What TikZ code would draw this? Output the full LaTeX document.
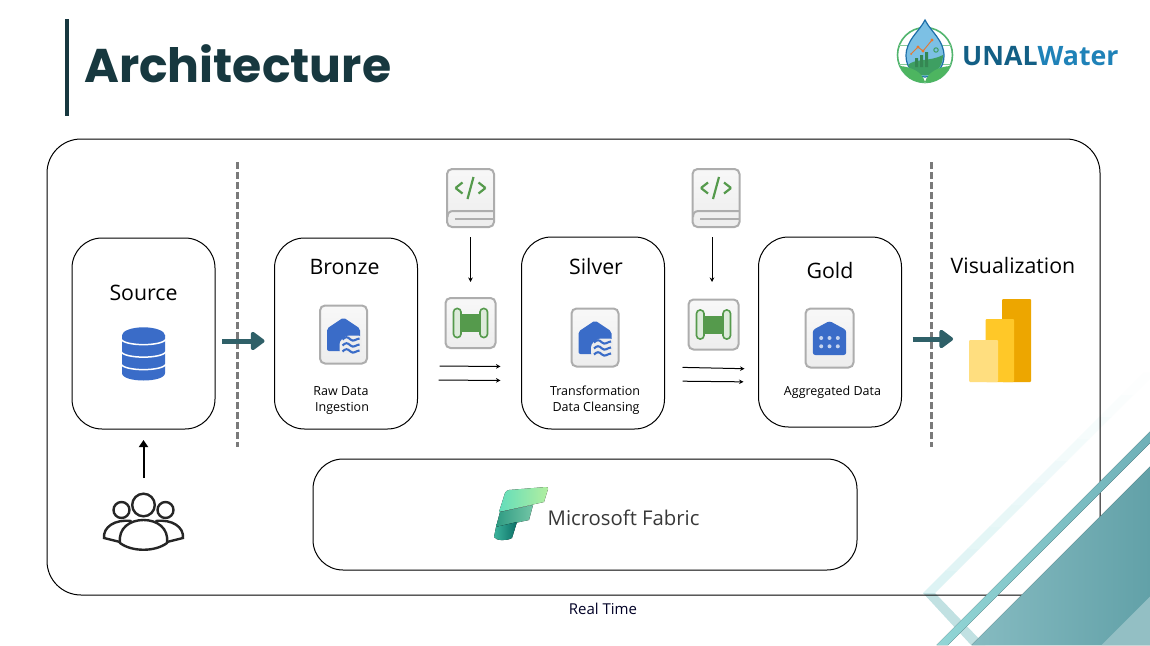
\documentclass[tikz,border=0pt]{standalone}
\usepackage{fontspec}
\setmainfont{Open Sans}
\newfontfamily\titlefont{Poppins}
\usetikzlibrary{arrows.meta}
\definecolor{inkteal}{HTML}{17383F}
\definecolor{flowteal}{HTML}{2F6068}
\definecolor{iconblue}{HTML}{3A6CC8}
\definecolor{codegreen}{HTML}{559A4C}
\definecolor{tilebg}{HTML}{EDEDED}
\definecolor{faintbar}{HTML}{DDF3F4}
\definecolor{biback}{HTML}{EDA600}
\definecolor{bimid}{HTML}{FFC828}
\definecolor{bifront}{HTML}{FFDE7F}
\tikzset{
  stage/.style={draw=black,line width=1pt,rounded corners=30pt,inner sep=0pt,outer sep=0pt,minimum width=143pt},
  tile/.style={draw=black!32,line width=2pt,rounded corners=5pt,top color=white!60!tilebg,bottom color=tilebg,inner sep=0pt,outer sep=0pt},
  ghost/.style={inner sep=0pt,outer sep=0pt},
  heading/.style={font=\fontsize{21.3}{25}\selectfont,inner sep=0pt},
  caption/.style={font=\fontsize{12.5}{16}\selectfont,align=center,inner sep=0pt},
  flowarrow/.style={draw=flowteal,line width=5pt,-{Triangle[length=15pt,width=21pt,round]}},
  thinarrow/.style={draw=black,line width=1pt,-{Stealth[length=4.5pt,width=4.5pt]}},
  guide/.style={draw=black!52,line width=3pt,dash pattern=on 7pt off 3pt},
  lakeglyph/.pic={
    \fill[iconblue,rounded corners=2pt] (-16.5,-6) -- (0,-17) -- (16.5,-6) -- (16.5,16.5) -- (-16.5,16.5) -- cycle;
    \fill[tilebg,rounded corners=3pt] (-4,18.5) -- (-4,7) -- (3,1) -- (18,1) -- (18,18.5) -- cycle;
    \foreach \wy in {5,11,17}
      \draw[iconblue,line width=2.1pt] (-1,\wy) .. controls (2,\wy-3) and (4,\wy-3) .. (7,\wy) .. controls (10,\wy+3) and (13,\wy-1) .. (16,\wy-1);
  },
  goldglyph/.pic={
    \fill[iconblue,rounded corners=2.5pt] (-16.7,-8) -- (0,-17) -- (16.7,-8) -- (16.7,17) -- (-16.7,17) -- cycle;
    \foreach \dx in {-8.3,0,8.3}
      \foreach \dy in {0,8.3}
        \fill[white!70!iconblue] (\dx,\dy) circle (2);
  },
  noteglyph/.pic={
    \draw[codegreen,line width=2.2pt] (-15,-10) -- (-8,-15.5) (-15,-10) -- (-8,-4.5);
    \draw[codegreen,line width=2.2pt] (15,-10) -- (8,-15.5) (15,-10) -- (8,-4.5);
    \draw[codegreen,line width=2.2pt] (3,-21) -- (-3,1);
    \draw[black!32,line width=2pt] (-23,19) .. controls (-23,15) and (-21,13) .. (-17,13) -- (23,13);
    \draw[black!32,line width=2pt] (-16,20.5) -- (23,20.5);
  },
  pipeglyph/.pic={
    \fill[codegreen] (-9.5,-9) rectangle (9.5,9);
    \draw[codegreen,line width=1.6pt,fill=white!80!codegreen,rounded corners=3.5pt] (-17,-14.5) rectangle (-9.5,14.5);
    \draw[codegreen,line width=1.6pt,fill=white!80!codegreen,rounded corners=3.5pt] (9.5,-14.5) rectangle (17,14.5);
  },
}
\begin{document}
\begin{tikzpicture}[x=1pt,y=-1pt]
\useasboundingbox (0,0) rectangle (1150,645);
\fill[white] (0,0) rectangle (1150,645);
%
% faint chevron
\fill[faintbar!92!black!95!cyan] (923,593) -- (935,593) -- (985,645) -- (971,645) -- cycle;
\foreach \k in {0,...,9} {
  \pgfmathsetmacro{\ta}{\k*22}
  \pgfmathsetmacro{\tb}{(\k+1)*22+0.5}
  \pgfmathsetmacro{\shade}{100-\k*10.5}
  \fill[faintbar!\shade!white] (923+\ta,593-\ta) -- (923+\tb,593-\tb) -- (935+\tb,593-\tb) -- (935+\ta,593-\ta) -- cycle;
}
%
% title
\fill[inkteal] (65,19) rectangle (68.5,116);
\node[anchor=base west,inner sep=0pt,text=inkteal,font=\titlefont\bfseries\fontsize{47.3}{50}\selectfont] (title) at (84,82) {Architecture};
%
% boxes
\node[draw=black,line width=1pt,rounded corners=34pt,inner sep=0pt,outer sep=0pt,minimum width=1053pt,minimum height=456pt] (realtime) at (573.5,367) {};
\node[stage,minimum height=191pt] (source) at (143.5,333.5) {};
\node[stage,minimum height=191pt] (bronze) at (346,333.5) {};
\node[stage,minimum height=192pt] (silver) at (593,333) {};
\node[stage,minimum height=190pt] (gold) at (830,332) {};
\node[stage,minimum width=544pt,minimum height=111pt] (fabric) at (585,514.5) {};
\draw[guide] (237,162) -- (237,447);
\draw[guide] (931,162) -- (931,447);
%
% labels
\node[heading] (sourcetext) at (143.5,293) {Source};
\node[heading] (bronzetext) at (344.5,267) {Bronze};
\node[heading] (silvertext) at (596,267) {Silver};
\node[heading] (goldtext) at (830,271) {Gold};
\node[heading] (viztext) at (1013,265.5) {Visualization};
\node[caption] (bronzecap) at (341,400.5) {Raw Data\\\,Ingestion};
\node[caption] (silvercap) at (595,400.5) {Transformation\\\,Data Cleansing};
\node[caption] (goldcap) at (832.5,392.5) {Aggregated Data};
\node[inner sep=0pt,font=\fontsize{15}{18}\selectfont,text=black!85!blue] (realcap) at (603,608.5) {Real Time};
%
% tiles
\node[tile,minimum width=47pt,minimum height=58pt] (lakeone) at (343.5,334.5) {};
\node[tile,minimum width=47pt,minimum height=58pt] (laketwo) at (595,337.5) {};
\node[tile,minimum width=48pt,minimum height=59pt] (lakegold) at (829.5,338) {};
\pic at (lakeone) {lakeglyph};
\pic at (laketwo) {lakeglyph};
\pic at (lakegold) {goldglyph};
\node[tile,minimum width=47pt,minimum height=58pt] (noteone) at (470.5,198) {};
\node[tile,minimum width=47pt,minimum height=58pt] (notetwo) at (716,198) {};
\pic at (noteone) {noteglyph};
\pic at (notetwo) {noteglyph};
\node[tile,minimum width=50pt,minimum height=50pt] (pipeone) at (470.5,323) {};
\node[tile,minimum width=50pt,minimum height=50pt] (pipetwo) at (713.5,324.5) {};
\pic at (pipeone) {pipeglyph};
\pic at (pipetwo) {pipeglyph};
%
% database
\node[ghost,minimum width=44pt,minimum height=53pt] (database) at (143.5,353.5) {};
\fill[iconblue] (122,335) -- (165,335) -- (165,373) .. controls (165,383) and (122,383) .. (122,373) -- cycle;
\foreach \sy in {339,351.5,364}
  \draw[white,line width=1.5pt] (121,\sy) .. controls (124,\sy+7.5) and (163,\sy+7.5) .. (166,\sy);
\fill[iconblue] (143.5,335.3) ellipse [x radius=21.5,y radius=8];
%
% power bi
\node[ghost,minimum width=63pt,minimum height=84pt] (powerbi) at (999.5,340.5) {};
\fill[biback,rounded corners=1pt] (1002,299) rectangle (1031,382);
\fill[bimid,rounded corners=1pt] (985.5,319) rectangle (1014,382);
\fill[bifront,rounded corners=1pt] (969,340) rectangle (998,382);
%
% people
\node[ghost,minimum width=81pt,minimum height=60pt] (people) at (143.5,522) {};
\begin{scope}[draw=black!85,line width=2.4pt]
\draw (143.5,505) circle (11.3);
\draw (121.5,510) circle (8);
\draw (165.5,510) circle (8);
\draw[line cap=round] (131,521) .. controls (115,519) and (103,527) .. (104,538) -- (120,542);
\draw[line cap=round] (156,521) .. controls (172,519) and (184,527) .. (183,538) -- (167,542);
\draw[fill=white] (120,543) .. controls (118,528) and (130,520) .. (143.5,520) .. controls (157,520) and (169,528) .. (167,543) .. controls (155,552) and (132,552) .. (120,543) -- cycle;
\end{scope}
%
% fabric logo
\definecolor{fabtopa}{HTML}{62DDBB}
\definecolor{fabtopb}{HTML}{B2EEA0}
\definecolor{fabmida}{HTML}{2E9A82}
\definecolor{fabmidb}{HTML}{73C6A6}
\definecolor{fabbota}{HTML}{3CB49C}
\definecolor{fabbotb}{HTML}{0B6F66}
\fill[left color=fabtopa,right color=fabtopb] (505,493) .. controls (506,491) and (507,490.5) .. (509,490) -- (546,487) .. controls (548,487) and (548,488) .. (548,489) -- (544,502) -- (499,512) -- cycle;
\fill[left color=fabmida,right color=fabmidb] (500,512) -- (533,505) -- (529,520) -- (496,527) -- cycle;
\fill[left color=fabbota,right color=fabbotb] (496,527) -- (517,522) -- (512,538) .. controls (507,541) and (496,541) .. (494,537) -- cycle;
\node[ghost,minimum width=58pt,minimum height=56pt] (fabriclogo) at (520,514) {};
\node[anchor=west,inner sep=0pt,text=black!78,font=\fontsize{20.3}{24}\selectfont] (fabrictext) at (547.5,518) {Microsoft Fabric};
%
% unalwater logo
\definecolor{logoring}{HTML}{52B56E}
\definecolor{logodrop}{HTML}{7CC0E4}
\definecolor{logoedge}{HTML}{1C6EA8}
\definecolor{logohill}{HTML}{3E9F62}
\definecolor{logoleaf}{HTML}{4DB560}
\definecolor{logodark}{HTML}{135F85}
\definecolor{logolight}{HTML}{1F82B8}
\definecolor{logodot}{HTML}{E8772E}
\draw[logoring,line width=1.6pt] (925,55) circle (27.5);
\draw[logoring!70,line width=.9pt] (925,27.5) .. controls (905,40) and (905,70) .. (925,82.5) .. controls (945,70) and (945,40) .. (925,27.5);
\draw[logoring!70,line width=.9pt] (898,45) -- (952,45) (898,64) -- (952,64);
\fill[logodrop,draw=logoedge,line width=1.2pt] (925,20) .. controls (931,32) and (944,40) .. (944,56) .. controls (944,68) and (935,77) .. (925,77) .. controls (915,77) and (906,68) .. (906,56) .. controls (906,40) and (919,32) .. (925,20) -- cycle;
\fill[logohill] (908,65) .. controls (915,58) and (930,62) .. (943,55) .. controls (943,68) and (934,75.5) .. (925,75.5) .. controls (917,75.5) and (910,71) .. (908,65) -- cycle;
\fill[logohill!85!black] (915,58) rectangle (918,67) (920,55) rectangle (923,67) (925,52) rectangle (928,67);
\draw[logodot,line width=.9pt] (911,54) -- (918,47) -- (923,51) -- (932,40);
\fill[logodot] (911,54) circle (1) (918,47) circle (1.6) (923,51) circle (1.6) (932,40) circle (1.6);
\draw[logohill,line width=1pt] (936,50) circle (2.2);
\fill[logoleaf] (925,82) .. controls (912,83) and (905,76) .. (900,66) .. controls (912,67) and (922,72) .. (925,82) -- cycle;
\fill[logoleaf] (925,82) .. controls (938,83) and (945,76) .. (950,66) .. controls (938,67) and (928,72) .. (925,82) -- cycle;
\node[anchor=base west,inner sep=0pt,font=\bfseries\fontsize{26.7}{30}\selectfont] (logotext) at (962,65) {\textcolor{logodark}{UNAL}\textcolor{logolight}{Water}};
%
% corner stripes
\definecolor{cornera}{HTML}{86BBC1}
\definecolor{cornerb}{HTML}{62A1A8}
\definecolor{cornerc}{HTML}{93BFC4}
\definecolor{stripea}{HTML}{92D6D6}
\definecolor{stripeb}{HTML}{6FB0B8}
\fill[left color=cornera,right color=cornerb] (971.5,645) -- (1150,466.5) -- (1150,645) -- cycle;
\fill[cornerc] (1101.5,645) -- (1150,596.5) -- (1150,645) -- cycle;
\fill[left color=stripea,right color=stripeb] (936.5,645) -- (1150,431.5) -- (1150,443) -- (948,645) -- cycle;
%
% connectors
\draw[flowarrow,shorten <=7pt,shorten >=10pt] ([yshift=-7.5pt]source.east) -- ([yshift=-7.5pt]bronze.west);
\draw[flowarrow,shorten <=11pt,shorten >=15pt] ([yshift=-7pt]gold.east) -- (powerbi.west |- 0,339);
\draw[black,line width=2pt,-{Triangle[length=7pt,width=9pt]},shorten <=14pt,shorten >=11pt] (people.north) -- (source.south);
\draw[thinarrow,shorten <=10pt,shorten >=16pt] (noteone.south) -- (pipeone.north);
\draw[thinarrow,shorten <=10pt,shorten >=17.5pt] ([xshift=-4pt]notetwo.south) -- ([xshift=-1.5pt]pipetwo.north);
\draw[thinarrow,shorten <=22pt,shorten >=21pt] ([yshift=-32.5pt]bronze.east) -- ([yshift=-33.5pt]silver.west);
\draw[thinarrow,shorten <=21pt,shorten >=21pt] ([yshift=-46.5pt]bronze.east) -- ([yshift=-47.5pt]silver.west);
\draw[thinarrow,shorten <=18pt,shorten >=14pt] ([yshift=-34pt]silver.east) -- ([yshift=-37pt]gold.west);
\draw[thinarrow,shorten <=18pt,shorten >=15pt] ([yshift=-48pt]silver.east) -- ([yshift=-50pt]gold.west);
\end{tikzpicture}
\end{document}
